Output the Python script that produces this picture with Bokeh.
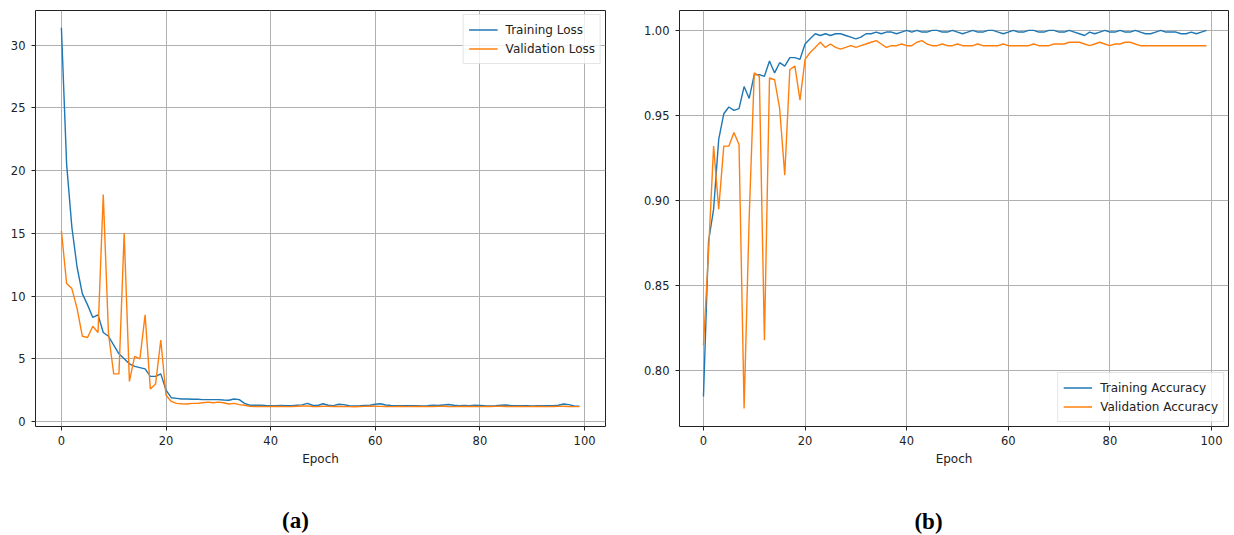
from bokeh.plotting import figure
from bokeh.models import Range1d, FixedTicker, NumeralTickFormatter, Legend, LegendItem, Label
from bokeh.layouts import row, column
from bokeh.embed import file_html
from bokeh.resources import INLINE

epochs = list(range(100))

train_loss = [31.4, 20.5, 15.5, 12.3, 10.2, 9.3, 8.3, 8.5, 7.1, 6.8,
              6.1, 5.4, 5.0, 4.6, 4.4, 4.3, 4.2, 3.6, 3.6, 3.8,
              2.5, 1.9, 1.85, 1.8, 1.8, 1.78, 1.78, 1.75, 1.75, 1.75,
              1.75, 1.72, 1.7, 1.8, 1.75, 1.45, 1.3, 1.3, 1.3, 1.28,
              1.27, 1.27, 1.28, 1.27, 1.26, 1.3, 1.33, 1.45, 1.3, 1.28,
              1.42, 1.3, 1.27, 1.38, 1.35, 1.26, 1.25, 1.26, 1.28, 1.3,
              1.38, 1.42, 1.32, 1.28, 1.27, 1.26, 1.26, 1.27, 1.26, 1.25,
              1.27, 1.3, 1.28, 1.32, 1.36, 1.3, 1.27, 1.28, 1.27, 1.3,
              1.28, 1.26, 1.25, 1.27, 1.3, 1.32, 1.27, 1.26, 1.27, 1.26,
              1.25, 1.26, 1.27, 1.26, 1.27, 1.3, 1.4, 1.35, 1.25, 1.22]

val_loss = [15.2, 11.0, 10.6, 9.0, 6.8, 6.7, 7.6, 7.1, 18.1, 7.0,
            3.8, 3.8, 15.0, 3.2, 5.2, 5.0, 8.5, 2.6, 3.0, 6.5,
            2.1, 1.6, 1.45, 1.42, 1.4, 1.45, 1.45, 1.5, 1.55, 1.5,
            1.55, 1.5, 1.4, 1.45, 1.35, 1.3, 1.22, 1.2, 1.2, 1.19,
            1.2, 1.21, 1.2, 1.19, 1.2, 1.22, 1.24, 1.25, 1.2, 1.19,
            1.22, 1.21, 1.2, 1.2, 1.21, 1.19, 1.18, 1.2, 1.21, 1.22,
            1.23, 1.21, 1.2, 1.19, 1.2, 1.2, 1.19, 1.2, 1.21, 1.2,
            1.19, 1.2, 1.21, 1.22, 1.2, 1.19, 1.2, 1.2, 1.21, 1.2,
            1.19, 1.2, 1.2, 1.21, 1.22, 1.2, 1.19, 1.2, 1.2, 1.19,
            1.2, 1.21, 1.2, 1.19, 1.2, 1.21, 1.22, 1.2, 1.19, 1.19]

train_acc = [0.785, 0.876, 0.895, 0.936, 0.951, 0.955, 0.953, 0.954, 0.967, 0.960,
             0.974, 0.974, 0.973, 0.982, 0.975, 0.981, 0.979, 0.984, 0.984, 0.983,
             0.992, 0.995, 0.998, 0.997, 0.998, 0.997, 0.998, 0.998, 0.997, 0.996,
             0.995, 0.996, 0.998, 0.998, 0.999, 0.998, 0.999, 0.999, 0.998, 0.999,
             1.000, 0.999, 1.000, 0.999, 0.999, 1.000, 1.000, 0.999, 0.999, 1.000,
             0.999, 0.998, 0.999, 1.000, 0.999, 0.999, 1.000, 1.000, 0.999, 0.998,
             0.999, 1.000, 0.999, 0.999, 1.000, 1.000, 0.999, 0.999, 1.000, 1.000,
             0.999, 0.999, 1.000, 0.999, 0.998, 0.997, 0.999, 0.998, 0.999, 1.000,
             0.999, 0.999, 1.000, 0.999, 0.999, 1.000, 0.999, 0.998, 0.998, 0.999,
             1.000, 0.999, 0.999, 0.999, 0.998, 0.998, 0.999, 0.998, 0.999, 1.000]

val_acc = [0.815, 0.870, 0.932, 0.895, 0.932, 0.932, 0.940, 0.933, 0.778, 0.890,
           0.975, 0.973, 0.818, 0.972, 0.971, 0.954, 0.915, 0.977, 0.979, 0.959,
           0.983, 0.987, 0.990, 0.993, 0.990, 0.992, 0.990, 0.989, 0.990, 0.991,
           0.990, 0.991, 0.992, 0.993, 0.994, 0.992, 0.990, 0.991, 0.991, 0.992,
           0.991, 0.991, 0.993, 0.994, 0.992, 0.991, 0.991, 0.992, 0.991, 0.991,
           0.992, 0.991, 0.991, 0.991, 0.992, 0.991, 0.991, 0.991, 0.991, 0.992,
           0.991, 0.991, 0.991, 0.991, 0.991, 0.992, 0.991, 0.991, 0.991, 0.992,
           0.992, 0.992, 0.993, 0.993, 0.993, 0.992, 0.991, 0.992, 0.993, 0.992,
           0.991, 0.992, 0.992, 0.993, 0.993, 0.992, 0.991, 0.991, 0.991, 0.991,
           0.991, 0.991, 0.991, 0.991, 0.991, 0.991, 0.991, 0.991, 0.991, 0.991]

x_ticks = [0, 20, 40, 60, 80, 100]
loss_ticks = [0, 5, 10, 15, 20, 25, 30]
acc_ticks = [0.80, 0.85, 0.90, 0.95, 1.00]
captions = ["(a)", "(b)"]

BLUE = "#1f77b4"
ORANGE = "#ff7f0e"
FONT = "DejaVu Sans"


def style(p, yticks):
    p.xaxis.ticker = FixedTicker(ticks=x_ticks)
    p.yaxis.ticker = FixedTicker(ticks=yticks)
    for ax in (p.xaxis[0], p.yaxis[0]):
        ax.axis_line_color = None
        ax.major_tick_line_color = "#222222"
        ax.major_tick_in = 0
        ax.major_tick_out = 4
        ax.minor_tick_line_color = None
        ax.major_label_text_font = FONT
        ax.major_label_text_font_size = "11.5px"
        ax.major_label_text_color = "#222222"
    p.xaxis.major_label_standoff = 5
    p.yaxis.major_label_standoff = 6
    p.xaxis.axis_label = "Epoch"
    p.xaxis.axis_label_text_font = FONT
    p.xaxis.axis_label_text_font_size = "12px"
    p.xaxis.axis_label_text_font_style = "normal"
    p.xaxis.axis_label_text_color = "#222222"
    p.xaxis.axis_label_standoff = 4
    p.grid.grid_line_color = "#b0b0b0"
    p.grid.grid_line_width = 1
    p.outline_line_color = "#222222"
    p.outline_line_width = 1
    p.background_fill_color = "white"
    p.border_fill_color = "white"


def make_legend(p, r1, r2, l1, l2, loc):
    leg = Legend(items=[LegendItem(label=l1, renderers=[r1]),
                        LegendItem(label=l2, renderers=[r2])],
                 location=loc)
    leg.label_text_font = FONT
    leg.label_text_font_size = "12px"
    leg.label_text_color = "#222222"
    leg.padding = 5
    leg.spacing = 0
    leg.margin = 4
    leg.glyph_width = 29
    leg.glyph_height = 19
    leg.label_height = 19
    leg.label_standoff = 8
    leg.border_line_color = "#cccccc"
    leg.border_line_width = 1
    leg.background_fill_alpha = 0.8
    p.add_layout(leg)


# ---- (a) loss ----
p1 = figure(width=640, height=490, output_backend="svg", toolbar_location=None,
            x_range=Range1d(-4.95, 104.0), y_range=Range1d(-0.396, 32.77),
            min_border_left=35, min_border_right=35, min_border_top=7, min_border_bottom=64)
style(p1, loss_ticks)
r1 = p1.line(epochs, train_loss, line_color=BLUE, line_width=1.4)
r2 = p1.line(epochs, val_loss, line_color=ORANGE, line_width=1.4)
make_legend(p1, r1, r2, "Training Loss", "Validation Loss", "top_right")

# ---- (b) accuracy ----
p2 = figure(width=594, height=490, output_backend="svg", toolbar_location=None,
            x_range=Range1d(-4.715, 103.34), y_range=Range1d(0.76735, 1.01166),
            min_border_left=38, min_border_right=6, min_border_top=10, min_border_bottom=61)
style(p2, acc_ticks)
p2.yaxis.formatter = NumeralTickFormatter(format="0.00")
r3 = p2.line(epochs, train_acc, line_color=BLUE, line_width=1.4)
r4 = p2.line(epochs, val_acc, line_color=ORANGE, line_width=1.4)
make_legend(p2, r3, r4, "Training Accuracy", "Validation Accuracy", "bottom_right")

# ---- caption strip ----
p3 = figure(width=1234, height=45, output_backend="svg", toolbar_location=None,
            x_range=Range1d(0, 1234), y_range=Range1d(0, 45),
            min_border=0, min_border_left=0, min_border_right=0,
            min_border_top=0, min_border_bottom=0)
p3.axis.visible = False
p3.grid.visible = False
p3.outline_line_color = None
p3.border_fill_color = "white"
for cx, cy, txt in [(295, 15, captions[0]), (928, 14, captions[1])]:
    p3.add_layout(Label(x=cx, y=cy, x_units="screen", y_units="screen", text=txt,
                        text_align="center", text_baseline="middle",
                        text_font="Liberation Serif", text_font_size="23px",
                        text_font_style="bold", text_color="black"))

layout = column(row(p1, p2), p3)
open("out.html", "w").write(file_html(layout, INLINE))
